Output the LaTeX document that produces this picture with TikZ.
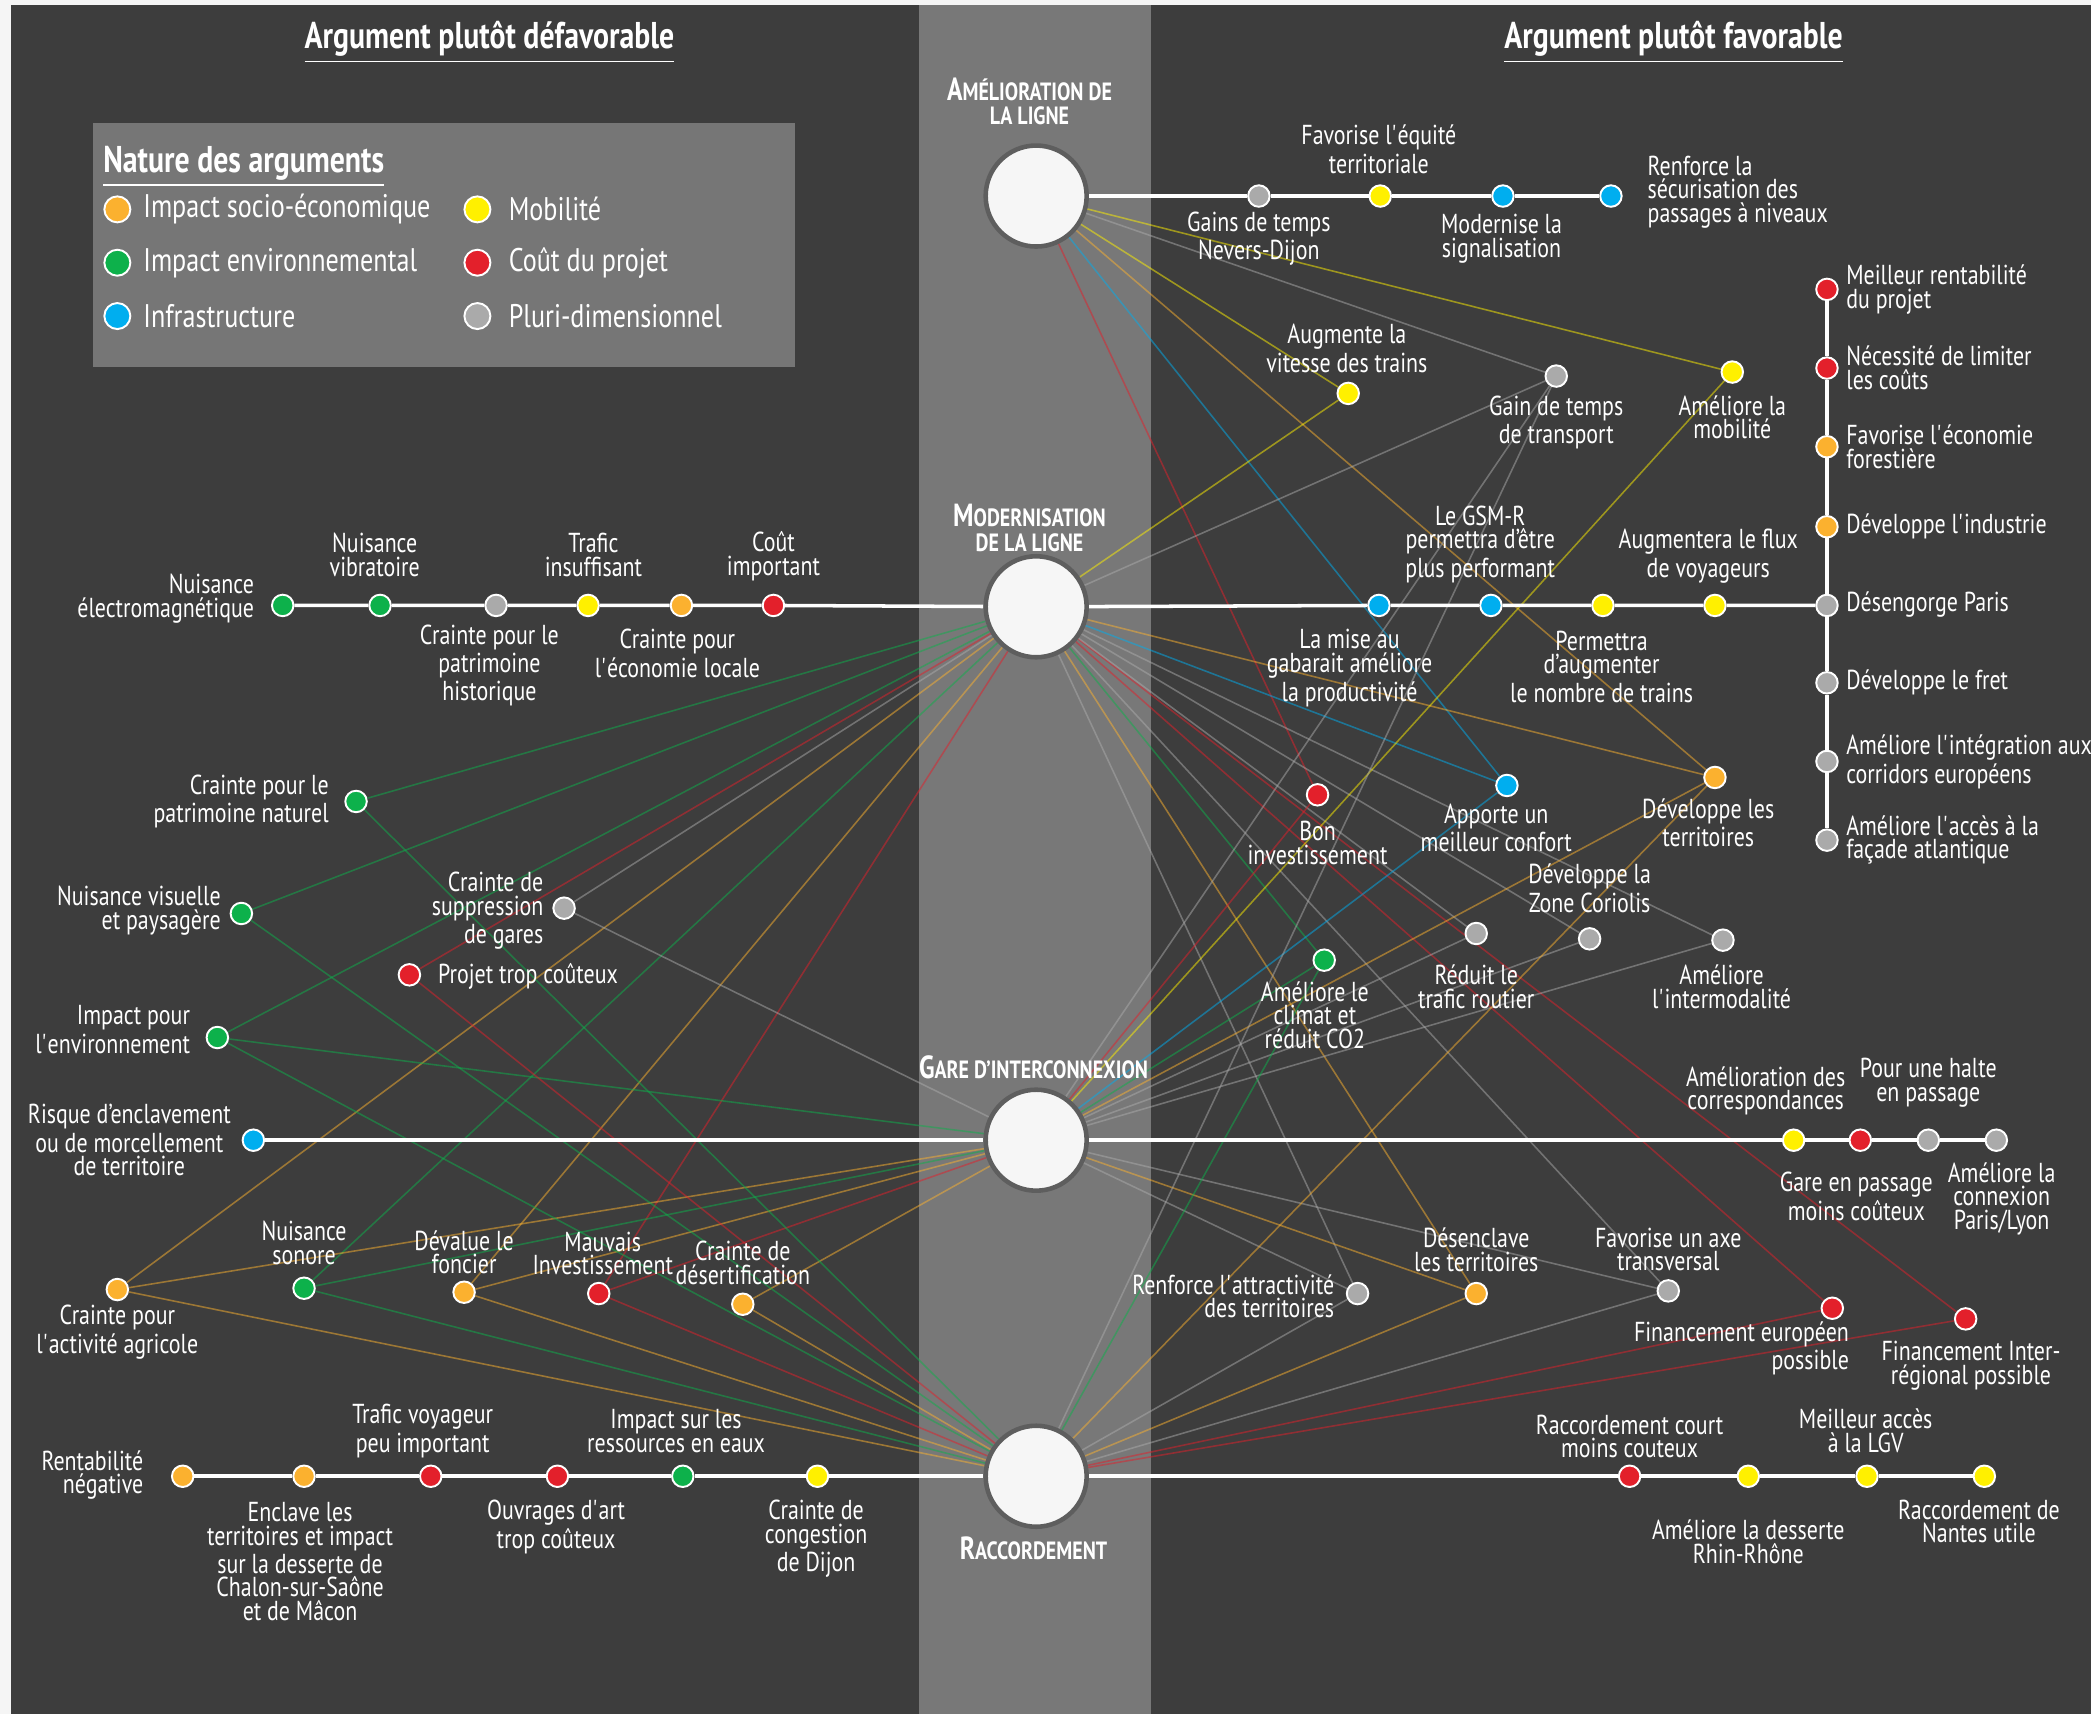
\documentclass[tikz,border=0pt]{standalone}
\usepackage{fontspec}
\setmainfont{PT Sans}[FakeStretch=0.8]
\definecolor{bgdark}{HTML}{3D3D3D}
\definecolor{bandgray}{HTML}{787878}
\definecolor{legbox}{HTML}{767676}
\definecolor{hubfill}{HTML}{F6F6F6}
\definecolor{hubring}{HTML}{5E5E5E}
\definecolor{corg}{HTML}{FBB12F}
\definecolor{cgrn}{HTML}{0DB14B}
\definecolor{cblu}{HTML}{00AEEF}
\definecolor{cyel}{HTML}{FFF000}
\definecolor{cred}{HTML}{E3202B}
\definecolor{cgry}{HTML}{AAAAAA}
\newcommand{\lblfont}{\fontsize{7.8}{6.7}\selectfont}
\newcommand{\legfont}{\fontsize{9.3}{10}\selectfont}
\newcommand{\headfont}{\bfseries\fontsize{10.6}{11}\selectfont}
\newcommand{\hubcap}[2]{{\fontsize{9.1}{7.4}\selectfont #1}#2}
\newcommand{\apo}{\textquotesingle}
\pgfdeclarelayer{bg}
\pgfdeclarelayer{links}
\pgfsetlayers{bg,links,main}

\begin{document}
\begin{tikzpicture}[x=0.013335cm, y=-0.013335cm,
    argdot/.style={circle, fill=#1, draw=white, line width=0.55pt, minimum size=2.15mm, inner sep=0pt},
    hub/.style={circle, fill=hubfill, draw=hubring, line width=1.3pt, minimum size=10.1mm, inner sep=0pt},
    hubtitle/.style={text=white, font=\bfseries\fontsize{7.1}{6.9}\selectfont, align=center, inner sep=0pt},
    lbl/.style={text=white, font=\lblfont, align=center, inner sep=0pt},
    collbl/.style={lbl, align=left, anchor=west},
    leglbl/.style={text=white, font=\legfont, anchor=west, inner sep=0pt},
    link/.style={draw=#1, line width=0.45pt, draw opacity=0.5},
    track/.style={draw=white, line width=1pt}]
\useasboundingbox (0,0) rectangle (1568,1285);
\begin{pgfonlayer}{bg}
\fill[black!4] (0,0) rectangle (1568,1285);
\fill[bgdark] (8,4) rectangle (1568,1285);
\fill[bandgray] (689,4) rectangle (863,1285);
\fill[legbox] (70,92) rectangle (596,275);
\end{pgfonlayer}

\node[text=white, font=\headfont, inner sep=0pt] (headl) at (367,32) {\underline{Argument plutôt défavorable}};
\node[text=white, font=\headfont, inner sep=0pt] (headr) at (1255,32) {\underline{Argument plutôt favorable}};

\node[leglbl, font=\headfont] (legt) at (77,125) {\underline{Nature des arguments}};
\node[argdot=corg, minimum size=2.6mm] (lg1) at (88,157) {};
\node[argdot=cgrn, minimum size=2.6mm] (lg2) at (88,197) {};
\node[argdot=cblu, minimum size=2.6mm] (lg3) at (88,237) {};
\node[argdot=cyel, minimum size=2.6mm] (lg4) at (358,157) {};
\node[argdot=cred, minimum size=2.6mm] (lg5) at (358,197) {};
\node[argdot=cgry, minimum size=2.6mm] (lg6) at (358,237) {};
\node[leglbl] (lgt1) at (107,157) {Impact socio-économique};
\node[leglbl] (lgt2) at (107,197) {Impact environnemental};
\node[leglbl] (lgt3) at (107,237) {Infrastructure};
\node[leglbl] (lgt4) at (381,157) {Mobilité};
\node[leglbl] (lgt5) at (381,197) {Coût du projet};
\node[leglbl] (lgt6) at (381,237) {Pluri-dimensionnel};

\node[hub] (a1) at (777,147) {};
\node[hub] (m2) at (777,455) {};
\node[hub] (g3) at (777,855) {};
\node[hub] (r4) at (777,1107) {};
\node[hubtitle] (a1t) at (772,76) {\hubcap{A}{MÉLIORATION DE}\\LA LIGNE};
\node[hubtitle] (m2t) at (772,396) {\hubcap{M}{ODERNISATION}\\DE LA LIGNE};
\node[hubtitle] (g3t) at (775,800) {\hubcap{G}{ARE D’INTERCONNEXION}};
\node[hubtitle] (r4t) at (775,1161) {\hubcap{R}{ACCORDEMENT}};

\node[argdot=cgry] (gainsnd) at (944,147) {};
\node[argdot=cyel] (equite) at (1035,147) {};
\node[argdot=cblu] (signal) at (1127,147) {};
\node[argdot=cblu] (securite) at (1208,147) {};

\node[argdot=cgrn] (electro) at (212,454) {};
\node[argdot=cgrn] (vibra) at (285,454) {};
\node[argdot=cgry] (histo) at (372,454) {};
\node[argdot=cyel] (trafic) at (441,454) {};
\node[argdot=corg] (ecoloc) at (511,454) {};
\node[argdot=cred] (cout) at (580,454) {};
\node[argdot=cblu] (gabarit) at (1034,454) {};
\node[argdot=cblu] (gsmr) at (1118,454) {};
\node[argdot=cyel] (nbtrains) at (1202,454) {};
\node[argdot=cyel] (flux) at (1286,454) {};
\node[argdot=cgry] (paris) at (1370,454) {};
\node[argdot=cred] (rentab) at (1370,217) {};
\node[argdot=cred] (limiter) at (1370,276) {};
\node[argdot=corg] (forest) at (1370,335) {};
\node[argdot=corg] (industrie) at (1370,395) {};
\node[argdot=cgry] (fret) at (1370,512) {};
\node[argdot=cgry] (corridors) at (1370,571) {};
\node[argdot=cgry] (atlant) at (1370,630) {};

\node[argdot=cblu] (enclav) at (190,855) {};
\node[argdot=cyel] (corresp) at (1345,855) {};
\node[argdot=cred] (garepass) at (1395,855) {};
\node[argdot=cgry] (halte) at (1446,855) {};
\node[argdot=cgry] (connex) at (1497,855) {};

\node[argdot=corg] (rentneg) at (137,1107) {};
\node[argdot=corg] (chalon) at (228,1107) {};
\node[argdot=cred] (voyageur) at (323,1107) {};
\node[argdot=cred] (ouvrages) at (418,1107) {};
\node[argdot=cgrn] (eaux) at (512,1107) {};
\node[argdot=cyel] (congestion) at (613,1107) {};
\node[argdot=cred] (court) at (1222,1107) {};
\node[argdot=cyel] (rhin) at (1311,1107) {};
\node[argdot=cyel] (lgv) at (1400,1107) {};
\node[argdot=cyel] (nantes) at (1488,1107) {};

\node[argdot=cgrn] (patnat) at (267,601) {};
\node[argdot=cgrn] (visuel) at (181,685) {};
\node[argdot=cgrn] (envir) at (163,778) {};
\node[argdot=cgry] (gares) at (423,681) {};
\node[argdot=cred] (projet) at (307,731) {};
\node[argdot=corg] (agricole) at (88,967) {};
\node[argdot=cgrn] (sonore) at (228,966) {};
\node[argdot=corg] (foncier) at (348,969) {};
\node[argdot=cred] (mauvais) at (449,970) {};
\node[argdot=corg] (desert) at (557,978) {};

\node[argdot=cyel] (vitesse) at (1011,295) {};
\node[argdot=cgry] (gaintr) at (1167,282) {};
\node[argdot=cyel] (mobil) at (1299,279) {};
\node[argdot=cblu] (confort) at (1130,589) {};
\node[argdot=corg] (devterr) at (1286,583) {};
\node[argdot=cred] (boninv) at (988,596) {};
\node[argdot=cgrn] (climat) at (993,720) {};
\node[argdot=cgry] (reduit) at (1107,700) {};
\node[argdot=cgry] (coriolis) at (1192,704) {};
\node[argdot=cgry] (intermod) at (1292,705) {};
\node[argdot=cgry] (renforce) at (1018,970) {};
\node[argdot=corg] (desencl) at (1107,970) {};
\node[argdot=cgry] (axe) at (1251,968) {};
\node[argdot=cred] (fineu) at (1374,981) {};
\node[argdot=cred] (finreg) at (1474,989) {};

\node[lbl] (t-equite) at (1034,112) {Favorise l\apo équité\\territoriale};
\node[lbl] (t-gainsnd) at (944,179) {Gains de temps\\Nevers-Dijon};
\node[lbl] (t-signal) at (1126,179) {Modernise la\\signalisation};
\node[lbl, anchor=west, align=left] (t-securite) at (1235,144) {Renforce la\\sécurisation des\\passages à niveaux};
\node[lbl] (t-vitesse) at (1010,261) {Augmente la\\vitesse des trains};
\node[lbl] (t-gaintr) at (1167,317) {Gain de temps\\de transport};
\node[lbl] (t-mobil) at (1299,313) {Améliore la\\mobilité};
\node[lbl] (t-gsmr) at (1110,408) {Le GSM-R\\permettra d’être\\plus performant};
\node[lbl] (t-flux) at (1281,417) {Augmentera le flux\\de voyageurs};
\node[lbl] (t-gabarit) at (1012,501) {La mise au\\gabarait améliore\\la productivité};
\node[lbl] (t-nbtrains) at (1201,500) {Permettra\\d’augmenter\\le nombre de trains};
\node[lbl] (t-confort) at (1122,621) {Apporte un\\meilleur confort};
\node[lbl] (t-devterr) at (1281,617) {Développe les\\territoires};
\node[lbl] (t-boninv) at (988,632) {Bon\\investissement};
\node[lbl] (t-coriolis) at (1192,666) {Développe la\\Zone Coriolis};
\node[lbl] (t-climat) at (986,761) {Améliore le\\climat et\\réduit CO2};
\node[lbl] (t-reduit) at (1107,740) {Réduit le\\trafic routier};
\node[lbl] (t-intermod) at (1291,740) {Améliore\\l\apo intermodalité};
\node[lbl] (t-corresp) at (1324,818) {Amélioration des\\correspondances};
\node[lbl] (t-halte) at (1446,812) {Pour une halte\\en passage};
\node[lbl] (t-garepass) at (1392,897) {Gare en passage\\moins coûteux};
\node[lbl] (t-connex) at (1501,899) {Améliore la\\connexion\\Paris/Lyon};
\node[lbl, anchor=east, align=right] (t-renforce) at (1001,972) {Renforce l\apo attractivité\\des territoires};
\node[lbl] (t-desencl) at (1107,937) {Désenclave\\les territoires};
\node[lbl] (t-axe) at (1251,937) {Favorise un axe\\transversal};
\node[lbl, anchor=east, align=right] (t-fineu) at (1387,1011) {Financement européen\\possible};
\node[lbl] (t-finreg) at (1478,1024) {Financement Inter-\\régional possible};
\node[lbl] (t-court) at (1222,1077) {Raccordement court\\moins couteux};
\node[lbl] (t-rhin) at (1311,1156) {Améliore la desserte\\Rhin-Rhône};
\node[lbl] (t-lgv) at (1399,1073) {Meilleur accès\\à la LGV};
\node[lbl] (t-nantes) at (1484,1141) {Raccordement de\\Nantes utile};

\node[collbl] (t-rentab) at (1384,217) {Meilleur rentabilité\\du projet};
\node[collbl] (t-limiter) at (1384,276) {Nécessité de limiter\\les coûts};
\node[collbl] (t-forest) at (1384,335) {Favorise l\apo économie\\forestière};
\node[collbl] (t-industrie) at (1384,395) {Développe l\apo industrie};
\node[collbl] (t-paris) at (1384,453) {Désengorge Paris};
\node[collbl] (t-fret) at (1384,512) {Développe le fret};
\node[collbl] (t-corridors) at (1384,571) {Améliore l\apo intégration aux\\corridors européens};
\node[collbl] (t-atlant) at (1384,630) {Améliore l\apo accès à la\\façade atlantique};

\node[lbl, anchor=east, align=right] (t-electro) at (191,449) {Nuisance\\électromagnétique};
\node[lbl] (t-vibra) at (281,416) {Nuisance\\vibratoire};
\node[lbl] (t-histo) at (367,499) {Crainte pour le\\patrimoine\\historique};
\node[lbl] (t-trafic) at (445,416) {Trafic\\insuffisant};
\node[lbl] (t-ecoloc) at (508,490) {Crainte pour\\l\apo économie locale};
\node[lbl] (t-cout) at (580,417) {Coût\\important};
\node[lbl, anchor=east, align=right] (t-patnat) at (247,601) {Crainte pour le\\patrimoine naturel};
\node[lbl, anchor=east, align=right] (t-visuel) at (166,683) {Nuisance visuelle\\et paysagère};
\node[lbl, anchor=east, align=right] (t-envir) at (143,772) {Impact pour\\l\apo environnement};
\node[lbl, anchor=east, align=right] (t-gares) at (408,683) {Crainte de\\suppression\\de gares};
\node[lbl, anchor=west] (t-projet) at (328,732) {Projet trop coûteux};
\node[lbl] (t-enclav) at (97,855) {Risque d’enclavement\\ou de morcellement\\de territoire};
\node[lbl] (t-sonore) at (228,932) {Nuisance\\sonore};
\node[lbl] (t-foncier) at (348,939) {Dévalue le\\foncier};
\node[lbl] (t-mauvais) at (452,940) {Mauvais\\Investissement};
\node[lbl] (t-desert) at (557,947) {Crainte de\\désertification};
\node[lbl] (t-agricole) at (88,999) {Crainte pour\\l\apo activité agricole};
\node[lbl, anchor=east, align=right] (t-rentneg) at (108,1106) {Rentabilité\\négative};
\node[lbl] (t-voyageur) at (317,1073) {Trafic voyageur\\peu important};
\node[lbl] (t-eaux) at (507,1073) {Impact sur les\\ressources en eaux};
\node[lbl] (t-chalon) at (225,1171) {Enclave les\\territoires et impact\\sur la desserte de\\Chalon-sur-Saône\\et de Mâcon};
\node[lbl] (t-ouvrages) at (417,1145) {Ouvrages d\apo art\\trop coûteux};
\node[lbl] (t-congestion) at (612,1154) {Crainte de\\congestion\\de Dijon};

\begin{pgfonlayer}{links}
% amelioration
\foreach \n in {vitesse,mobil} \draw[link=cyel] (a1) -- (\n);
\draw[link=cgry] (a1) -- (gaintr);
\draw[link=corg] (a1) -- (devterr);
\draw[link=cblu] (a1) -- (confort);
\draw[link=cred] (a1) -- (boninv);
% modernisation
\foreach \n in {patnat,visuel,envir,sonore,climat} \draw[link=cgrn] (m2) -- (\n);
\foreach \n in {projet,mauvais,fineu,finreg} \draw[link=cred] (m2) -- (\n);
\foreach \n in {agricole,foncier,devterr,desencl} \draw[link=corg] (m2) -- (\n);
\foreach \n in {gares,gaintr,reduit,coriolis,intermod,renforce,axe} \draw[link=cgry] (m2) -- (\n);
\draw[link=cyel] (m2) -- (vitesse);
\draw[link=cblu] (m2) -- (confort);
% gare
\foreach \n in {envir,sonore,climat} \draw[link=cgrn] (g3) -- (\n);
\foreach \n in {mauvais,boninv} \draw[link=cred] (g3) -- (\n);
\foreach \n in {agricole,foncier,desert,devterr,desencl} \draw[link=corg] (g3) -- (\n);
\foreach \n in {gares,gaintr,reduit,coriolis,intermod,renforce,axe} \draw[link=cgry] (g3) -- (\n);
\draw[link=cyel] (g3) -- (mobil);
\draw[link=cblu] (g3) -- (confort);
% raccordement
\foreach \n in {patnat,visuel,envir,sonore,climat} \draw[link=cgrn] (r4) -- (\n);
\foreach \n in {projet,mauvais,fineu,finreg} \draw[link=cred] (r4) -- (\n);
\foreach \n in {agricole,foncier,desert,devterr,desencl} \draw[link=corg] (r4) -- (\n);
\foreach \n in {gaintr,renforce,axe} \draw[link=cgry] (r4) -- (\n);

\draw[track] (a1) -- (gainsnd) -- (equite) -- (signal) -- (securite);
\draw[track] (electro) -- (vibra) -- (histo) -- (trafic) -- (ecoloc) -- (cout) -- (m2)
  -- (gabarit) -- (gsmr) -- (nbtrains) -- (flux) -- (paris);
\draw[track] (rentab) -- (limiter) -- (forest) -- (industrie) -- (paris) -- (fret) -- (corridors) -- (atlant);
\draw[track] (enclav) -- (g3) -- (corresp) -- (garepass) -- (halte) -- (connex);
\draw[track] (rentneg) -- (chalon) -- (voyageur) -- (ouvrages) -- (eaux) -- (congestion) -- (r4)
  -- (court) -- (rhin) -- (lgv) -- (nantes);
\end{pgfonlayer}
\end{tikzpicture}
\end{document}
